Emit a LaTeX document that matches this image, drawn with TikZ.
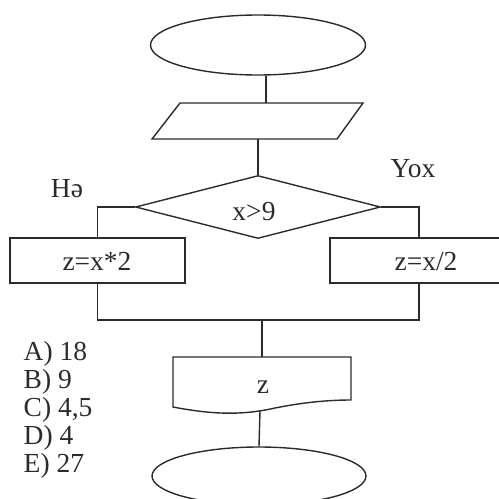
\documentclass[tikz,border=0pt]{standalone}
\usepackage{fontspec}
\setmainfont{Liberation Serif}
\usetikzlibrary{shapes.geometric}
\definecolor{ink}{HTML}{2B2B2B}
\begin{document}
\begin{tikzpicture}[x=1pt,y=-1pt, line width=1.4pt, color=ink,
  every node/.style={font=\fontsize{27.5}{31}\selectfont, inner sep=0pt},
  term/.style={ellipse, draw, minimum width=215pt, minimum height=60pt},
  proc/.style={rectangle, draw, minimum height=45pt},
  cond/.style={diamond, draw, minimum width=245pt, minimum height=63pt},
  lbl/.style={anchor=base},
  ans/.style={anchor=base west}]
\useasboundingbox (0,0) rectangle (499,499);
\clip (0,0) rectangle (499,499);
% start terminal
\node[term] (start) at (258,45) {};
% input parallelogram
\draw (180,103) -- (363,103) -- (337,139) -- (152,139) -- cycle;
\coordinate (inTop) at (266,103);
\coordinate (inBot) at (258,139);
% decision
\node[cond] (dec) at (258,207) {};
\node[lbl] (condtxt) at (254,220) {x>9};
% process boxes
\node[proc, minimum width=175pt] (yes) at (97.5,260.5) {};
\node[lbl] (yestxt) at (97,270) {z=x*2};
\node[proc, minimum width=178pt] (no) at (419,260.5) {};
\node[lbl] (notxt) at (426,270) {z=x/2};
% branch labels
\node[lbl] (he) at (67,197) {Hə};
\node[lbl] (yox) at (413,177) {Yox};
% output (document shape)
\draw (173,357) -- (351,357) -- (351,400)
  .. controls (330,400) and (305,402) .. (275,408)
  .. controls (240,416) and (210,414) .. (173,407) -- cycle;
\coordinate (outTop) at (262,357);
\coordinate (outBot) at (260,411);
\node[lbl] (outtxt) at (263,393) {z};
% end terminal
\node[term, minimum width=214pt, minimum height=58pt] (end) at (259,476) {};
% connectors
\coordinate (startBot) at ([xshift=8pt]start.south);
\draw (startBot) -- (inTop);
\draw (inBot) -- (dec.north);
\draw (dec.west) -| (yes.north);
\draw (dec.east) -| (no.north);
\coordinate (merge) at (262,320);
\draw (yes.south) |- (no.south |- merge) -- (no.south);
\draw (merge) -- (outTop);
\draw (outBot) -- (end.north);
% answers
\node[ans] (a1) at (23,360) {A) 18};
\node[ans] (a2) at (23,388) {B) 9};
\node[ans] (a3) at (23,416) {C) 4,5};
\node[ans] (a4) at (23,444) {D) 4};
\node[ans] (a5) at (23,472) {E) 27};
\end{tikzpicture}
\end{document}
